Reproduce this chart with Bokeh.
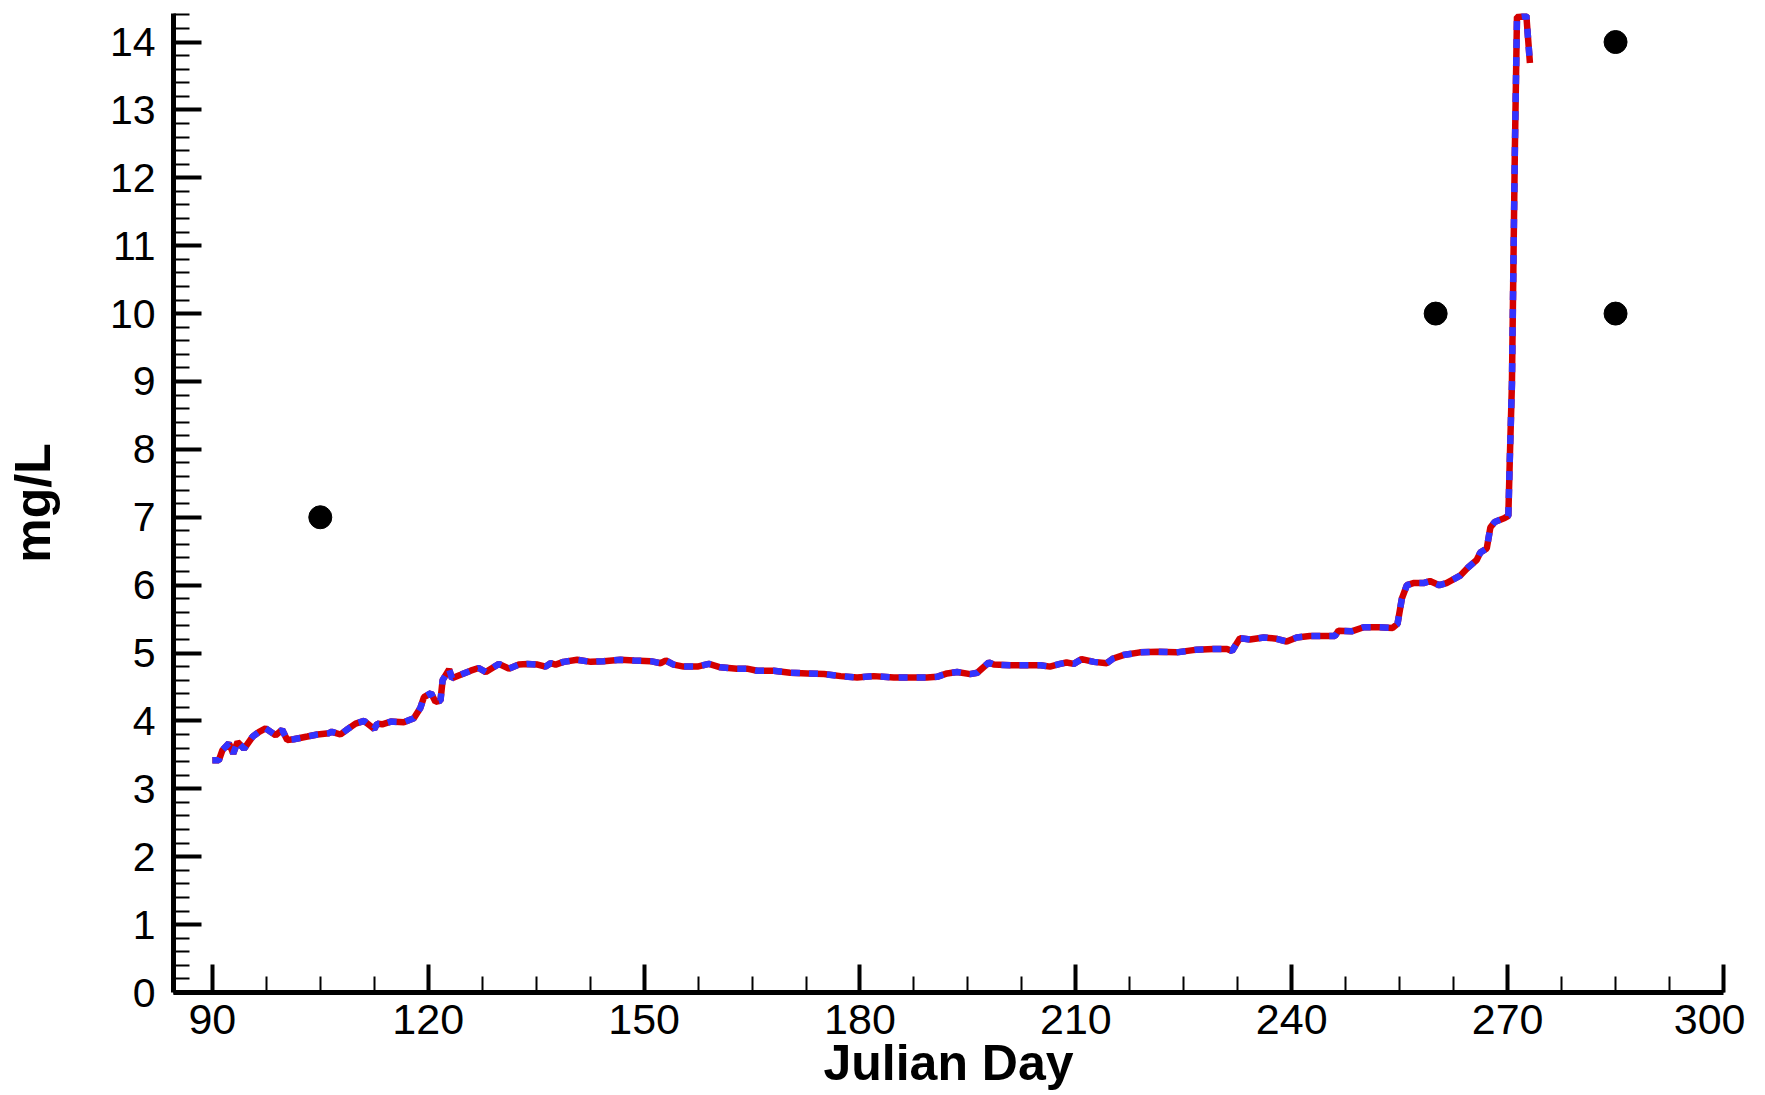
from bokeh.plotting import figure
from bokeh.models import SingleIntervalTicker, Range1d, ColumnDataSource
from bokeh.embed import file_html
from bokeh.resources import INLINE

# Simulated concentration (two model runs that overlap exactly)
days = [90.0, 90.9, 91.4, 92.3, 92.9, 93.5, 94.4, 95.6, 96.5, 97.4, 98.8, 99.7,
        100.4, 101.3, 103.2, 104.6, 106.2, 106.6, 107.8, 108.8, 109.9, 111.1,
        111.8, 112.5, 112.9, 113.6, 114.8, 116.6, 118.0, 118.9, 119.4, 120.4,
        121.0, 121.7, 122.0, 122.9, 123.3, 124.5, 125.9, 127.0, 128.0, 129.8,
        131.2, 132.6, 133.8, 135.2, 136.3, 137.0, 137.7, 138.8, 140.7, 142.6,
        144.4, 146.7, 148.6, 150.9, 152.3, 153.0, 154.1, 155.5, 157.4, 159.0,
        160.6, 162.9, 164.3, 165.7, 168.0, 170.3, 172.7, 175.0, 177.3, 179.6,
        181.9, 184.7, 187.0, 189.3, 190.7, 192.1, 193.5, 195.3, 196.3, 197.9,
        198.6, 200.9, 203.2, 205.1, 206.4, 207.8, 208.7, 209.7, 210.8, 212.5,
        214.3, 215.2, 216.6, 218.9, 221.3, 224.0, 226.8, 229.1, 231.0, 231.7,
        232.8, 234.2, 236.1, 237.9, 239.3, 240.7, 242.5, 244.5, 246.0, 246.5,
        248.3, 250.0, 252.2, 254.0, 254.7, 255.3, 256.0, 256.9, 258.3, 259.2,
        260.5, 261.5, 263.4, 264.5, 265.7, 266.2, 267.1, 267.6, 268.2, 269.6,
        270.1, 270.3, 270.6, 270.8, 271.0, 271.3, 272.6, 273.1]
model_a = [3.42, 3.42, 3.57, 3.67, 3.52, 3.69, 3.59, 3.77, 3.84, 3.89, 3.79, 3.87,
           3.72, 3.73, 3.77, 3.80, 3.82, 3.84, 3.80, 3.88, 3.96, 4.00,
           3.94, 3.88, 3.96, 3.95, 3.99, 3.98, 4.04, 4.19, 4.35, 4.41,
           4.28, 4.30, 4.60, 4.76, 4.63, 4.68, 4.74, 4.78, 4.72, 4.84,
           4.77, 4.83, 4.84, 4.83, 4.80, 4.85, 4.83, 4.87, 4.90, 4.87,
           4.88, 4.90, 4.89, 4.88, 4.85, 4.89, 4.83, 4.80, 4.80, 4.84,
           4.79, 4.77, 4.77, 4.74, 4.74, 4.71, 4.70, 4.69, 4.66, 4.64,
           4.66, 4.64, 4.64, 4.64, 4.65, 4.70, 4.72, 4.69, 4.71, 4.86,
           4.83, 4.82, 4.82, 4.82, 4.80, 4.84, 4.86, 4.84, 4.91, 4.87,
           4.85, 4.92, 4.97, 5.01, 5.02, 5.01, 5.05, 5.06, 5.06, 5.03,
           5.22, 5.20, 5.23, 5.21, 5.17, 5.23, 5.25, 5.25, 5.25, 5.33,
           5.32, 5.38, 5.38, 5.37, 5.43, 5.80, 6.00, 6.03, 6.03, 6.06,
           6.00, 6.03, 6.14, 6.26, 6.37, 6.48, 6.54, 6.85, 6.93, 6.99,
           7.02, 7.84, 8.97, 10.67, 12.36, 14.37, 14.39, 13.69]
model_b = list(model_a)

# Observations
obs_days = [105, 260, 285, 285]
obs_vals = [7, 10, 14, 10]

x_title = "Julian Day"
y_title = "mg/L"

src = ColumnDataSource(dict(x=days, a=model_a, b=model_b))
obs = ColumnDataSource(dict(x=obs_days, y=obs_vals))

p = figure(width=1745, height=1094, output_backend="svg", toolbar_location=None,
           x_range=Range1d(84.6, 300), y_range=Range1d(0, 14.42),
           min_border_left=173, min_border_right=22, min_border_top=13,
           min_border_bottom=102)
p.outline_line_color = None
p.xgrid.visible = False
p.ygrid.visible = False
p.background_fill_color = "white"

p.line("x", "a", source=src, line_color="#D40000", line_width=6.5)
p.line("x", "b", source=src, line_color="#3333FF", line_width=6.5, line_dash="9 9")
p.scatter("x", "y", source=obs, size=23, marker="circle",
          fill_color="black", line_color="black")

p.xaxis.ticker = SingleIntervalTicker(interval=30, num_minor_ticks=4)
p.yaxis.ticker = SingleIntervalTicker(interval=1, num_minor_ticks=5)

for ax in (p.xaxis[0], p.yaxis[0]):
    ax.axis_line_width = 5
    ax.axis_line_color = "black"
    ax.major_tick_line_width = 4
    ax.minor_tick_line_width = 2
    ax.major_tick_in = 28
    ax.major_tick_out = 0
    ax.minor_tick_in = 16
    ax.minor_tick_out = 0
    ax.major_label_text_font = "Liberation Sans"
    ax.major_label_text_color = "black"
    ax.axis_label_text_font = "Liberation Sans"
    ax.axis_label_text_font_style = "bold"
    ax.axis_label_text_font_size = "50px"
    ax.axis_label_text_color = "black"

p.xaxis.major_label_text_font_size = "43px"
p.yaxis.major_label_text_font_size = "41px"
p.xaxis.axis_label = x_title
p.yaxis.axis_label = y_title
p.xaxis.major_label_standoff = 12
p.xaxis.axis_label_standoff = -2
p.yaxis.major_label_standoff = 18
p.yaxis.axis_label_standoff = 46

open("out.html", "w").write(file_html(p, INLINE))
